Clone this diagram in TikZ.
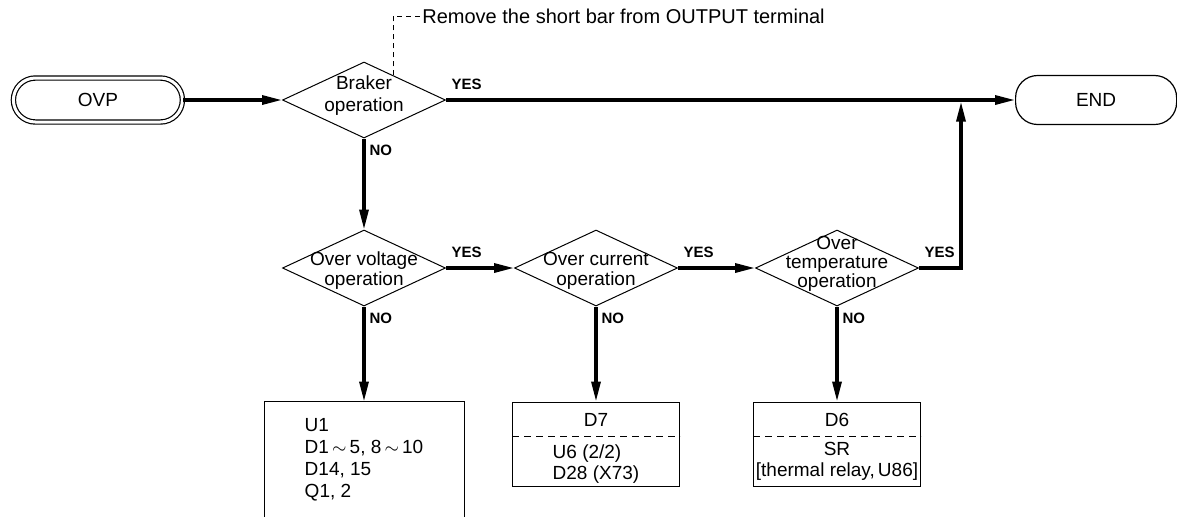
\documentclass[tikz,border=0pt]{standalone}
\usepackage{fontspec}
\setmainfont{Liberation Sans}
\usetikzlibrary{shapes.geometric, arrows.meta, positioning, calc}

\begin{document}
\begin{tikzpicture}[
    x=0.5pt, y=0.5pt,
    every node/.style={align=center, inner sep=0pt, font=\fontsize{9.5}{10}\selectfont},
    terminal/.style={draw, rounded corners=11pt, minimum width=80.5pt, minimum height=24.5pt, line width=0.6pt},
    decision/.style={draw, diamond, minimum width=81.5pt, minimum height=38pt, line width=0.5pt},
    question/.style={font=\fontsize{9.5}{10}\selectfont},
    partbox/.style={draw, minimum width=83.5pt, minimum height=42pt, line width=0.5pt},
    answer/.style={font=\fontsize{7.5}{8}\selectfont\bfseries},
    flow/.style={-{Triangle[length=10pt, width=4.5pt]}, line width=1.6pt},
    divider/.style={dash pattern=on 3.5pt off 2.5pt, line width=0.5pt},
    leader/.style={dash pattern=on 2.5pt off 2pt, line width=0.5pt}
]
    \useasboundingbox (0,0) rectangle (1177,-516);

    % Draw nodes
    \node[decision, label={[question, yshift=2pt, font=\fontsize{9.5}{11}\selectfont]center:Braker\\operation}] (braker) at (364,-100) {};
    \node[terminal, double, double distance=1.5pt, minimum width=84.5pt, minimum height=22pt, left=49.5pt of braker] (ovp) {OVP};
    \node[terminal, right=284.5pt of braker] (finish) {END};
    \node[font=\fontsize{10}{12}\selectfont, anchor=west] (note) at (422,-16) {Remove the short bar from OUTPUT terminal};
    \coordinate (notefoot) at ($(braker.north)!0.36!(braker.east)$);

    \node[decision, below=45.5pt of braker, label={[question, yshift=-1.5pt]center:Over voltage\\operation}] (overvoltage) {};
    \node[decision, right=34pt of overvoltage, label={[question, yshift=-1.5pt]center:Over current\\operation}] (overcurrent) {};
    \node[decision, right=38.5pt of overcurrent, label={[question, yshift=2pt, font=\fontsize{9.5}{9.5}\selectfont]center:Over\\temperature\\operation}] (overtemp) {};
    \coordinate (merge) at ([xshift=21pt]overtemp.east |- finish.west);

    % result boxes
    \node[partbox, draw=none, minimum width=99.5pt, minimum height=58pt, align=left, font=\fontsize{9.5}{11}\selectfont, below=47.5pt of overvoltage] (u1box) {U1\\D1\,$\sim$\,5, 8\,$\sim$\,10\\D14, 15\\Q1, 2};
    \node[partbox, below=47.5pt of overcurrent] (d7box) {};
    \node (d7) at ([yshift=-9pt]d7box.north) {D7};
    \node[align=left, font=\fontsize{9.5}{10.5}\selectfont] (d7list) at ([yshift=-31.25pt]d7box.north) {U6 (2/2)\\D28 (X73)};
    \node[partbox, below=47.5pt of overtemp] (d6box) {};
    \node (d6) at ([yshift=-9pt]d6box.north) {D6};
    \node[font=\fontsize{9.5}{10.5}\selectfont] (d6list) at ([yshift=-29.75pt]d6box.north) {SR\\{}[thermal relay,\,U86]};

    % Draw connections
    \draw[leader] (notefoot) |- ([xshift=-1pt]note.west);
    \draw[flow] (ovp) -- (braker);
    \draw[flow] (braker.east) node[answer, anchor=south west, xshift=2pt, yshift=4.5pt] (yes1) {YES} -- (finish.west);
    \draw[flow] (braker.south) node[answer, anchor=north west, xshift=2pt, yshift=-2.5pt] (no1) {NO} -- (overvoltage.north);
    \draw[flow] (overvoltage.east) node[answer, anchor=south west, xshift=2pt, yshift=4.5pt] (yes2) {YES} -- (overcurrent.west);
    \draw[flow] (overcurrent.east) node[answer, anchor=south west, xshift=2pt, yshift=4.5pt] (yes3) {YES} -- (overtemp.west);
    \draw[flow, shorten >=0.8pt] (overtemp.east) node[answer, anchor=south west, xshift=2pt, yshift=4.5pt] (yes4) {YES} -| (merge);
    \draw[flow] (overvoltage.south) node[answer, anchor=north west, xshift=2pt, yshift=-2.5pt] (no2) {NO} -- (u1box.north);
    \draw[flow] (overcurrent.south) node[answer, anchor=north west, xshift=2pt, yshift=-2.5pt] (no3) {NO} -- (d7box.north);
    \draw[flow] (overtemp.south) node[answer, anchor=north west, xshift=2pt, yshift=-2.5pt] (no4) {NO} -- (d6box.north);

    % box edges and dividers
    \draw[line width=0.5pt] (u1box.south west) -- (u1box.north west) -- (u1box.north east) -- (u1box.south east);
    \draw[divider] ([yshift=-17.5pt]d7box.north west) -- ([yshift=-17.5pt]d7box.north east);
    \draw[divider] ([yshift=-17.5pt]d6box.north west) -- ([yshift=-17.5pt]d6box.north east);

\end{tikzpicture}
\end{document}
